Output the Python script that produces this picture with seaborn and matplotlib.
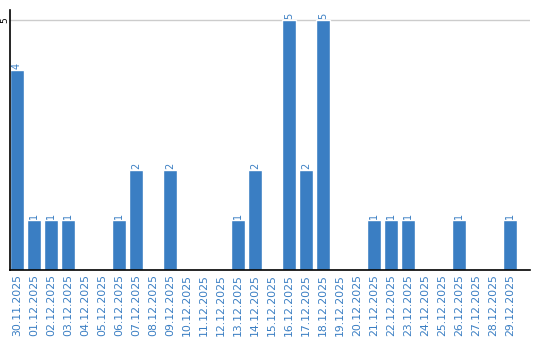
import matplotlib
matplotlib.use("Agg")
import matplotlib.pyplot as plt
import seaborn as sns
import pandas as pd

dates = ["30.11.2025", "01.12.2025", "02.12.2025", "03.12.2025", "04.12.2025",
         "05.12.2025", "06.12.2025", "07.12.2025", "08.12.2025", "09.12.2025",
         "10.12.2025", "11.12.2025", "12.12.2025", "13.12.2025", "14.12.2025",
         "15.12.2025", "16.12.2025", "17.12.2025", "18.12.2025", "19.12.2025",
         "20.12.2025", "21.12.2025", "22.12.2025", "23.12.2025", "24.12.2025",
         "25.12.2025", "26.12.2025", "27.12.2025", "28.12.2025", "29.12.2025"]
values = [4, 1, 1, 1, 0, 0, 1, 2, 0, 2, 0, 0, 0, 1, 2,
          0, 5, 2, 5, 0, 0, 1, 1, 1, 0, 0, 1, 0, 0, 1]
y_ticks = [5]

sns.set_style("white")
plt.rcParams['font.family'] = ['DejaVu Sans']

df = pd.DataFrame({"date": dates, "value": values})
blue = "#3a7ec3"

fig = plt.figure(figsize=(5.4, 3.4), dpi=100)
ax = fig.add_axes([10/540, 70/340, 520/540, 260/340])
sns.barplot(data=df, x="date", y="value", color=blue, width=0.82,
            saturation=1, ax=ax, order=dates)

ax.set_xlim(-0.41, 30.18)
ax.set_ylim(0, 5.2)
ax.set_yticks(y_ticks)
ax.set_yticklabels([str(t) for t in y_ticks], rotation=90, va="center",
                   ha="center", fontsize=6.5, color="black")
ax.tick_params(axis="y", length=0, pad=4)
ax.tick_params(axis="x", length=0, pad=3)
ax.set_xticks(range(len(dates)))
ax.set_xticklabels(dates, rotation=90, fontsize=7.8, color=blue)
ax.set_xlabel("")
ax.set_ylabel("")

for t in y_ticks:
    ax.axhline(t, color="#cccccc", lw=1, zorder=0)

for s in ["top", "right"]:
    ax.spines[s].set_visible(False)
for s in ["left", "bottom"]:
    ax.spines[s].set_visible(True)
    ax.spines[s].set_color("black")
    ax.spines[s].set_linewidth(1.2)

for i, v in enumerate(values):
    if v > 0:
        ax.text(i, v + 0.02, str(v), rotation=90, ha="center", va="bottom",
                fontsize=7, color=blue)

fig.savefig("out.png", dpi=100)
